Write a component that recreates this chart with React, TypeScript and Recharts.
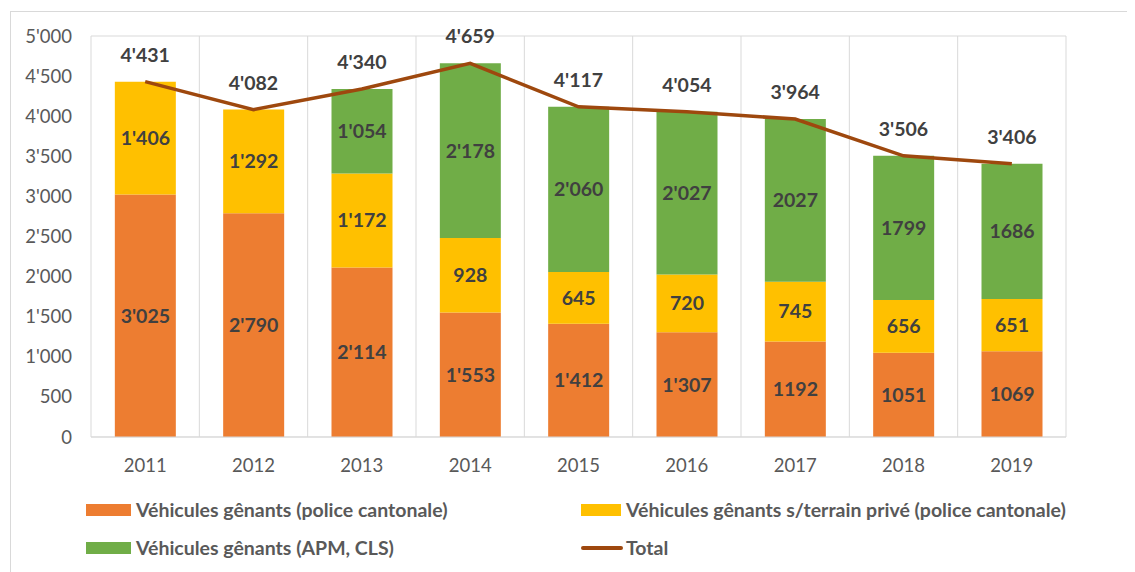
import { Bar, CartesianGrid, ComposedChart, LabelList, Line, XAxis, YAxis } from "recharts"

const years = ["2011", "2012", "2013", "2014", "2015", "2016", "2017", "2018", "2019"]
const policeCantonale = [3025, 2790, 2114, 1553, 1412, 1307, 1192, 1051, 1069]
const terrainPrive = [1406, 1292, 1172, 928, 645, 720, 745, 656, 651]
const apmCls = [0, 0, 1054, 2178, 2060, 2027, 2027, 1799, 1686]
const totals = [4431, 4082, 4340, 4659, 4117, 4054, 3964, 3506, 3406]

// labels as printed in the source (mixed formatting)
const policeLabels = ["3'025", "2'790", "2'114", "1'553", "1'412", "1'307", "1192", "1051", "1069"]
const priveLabels = ["1'406", "1'292", "1'172", "928", "645", "720", "745", "656", "651"]
const apmLabels = ["", "", "1'054", "2'178", "2'060", "2'027", "2027", "1799", "1686"]
const totalLabels = ["4'431", "4'082", "4'340", "4'659", "4'117", "4'054", "3'964", "3'506", "3'406"]

const yTicks = [0, 500, 1000, 1500, 2000, 2500, 3000, 3500, 4000, 4500, 5000]

const data = years.map((year, i) => ({
  year,
  police: policeCantonale[i],
  prive: terrainPrive[i],
  apm: apmCls[i],
  total: totals[i],
  policeLabel: policeLabels[i],
  priveLabel: priveLabels[i],
  apmLabel: apmLabels[i],
  totalLabel: totalLabels[i],
}))

const FONT = "Lato, 'Open Sans', sans-serif"
const fmt = (v: number) => (v >= 1000 ? `${Math.floor(v / 1000)}'${String(v % 1000).padStart(3, "0")}` : `${v}`)

const tickStyle = { fill: "#595959", fontSize: 18.5, fontFamily: FONT }
const barLabel = { fill: "#404040", fontSize: 19.5, fontWeight: 700, fontFamily: FONT }

const legendText = { fontFamily: FONT, fontWeight: 700, fontSize: 19.5, color: "#595959" }

export default function App() {
  return (
    <div
      style={{
        position: "relative",
        marginLeft: 2,
        marginTop: 3,
        width: 1125,
        height: 560,
        borderTop: "1px solid #d9d9d9",
        borderLeft: "1px solid #d9d9d9",
      }}
    >
      <ComposedChart
        width={1125}
        height={470}
        data={data}
        margin={{ top: 24, right: 10, bottom: 5, left: 20 }}
        barCategoryGap="22%"
      >
        <CartesianGrid
          stroke="#d9d9d9"
          verticalCoordinatesGenerator={({ offset }: any) =>
            Array.from({ length: years.length + 1 }, (_, i) => offset.left + (i * offset.width) / years.length)
          }
        />
        <XAxis
          dataKey="year"
          tick={tickStyle}
          tickLine={false}
          axisLine={{ stroke: "#d9d9d9" }}
          tickMargin={16}
          height={40}
        />
        <YAxis
          yAxisId="left"
          domain={[0, 5000]}
          ticks={yTicks}
          tickFormatter={fmt}
          tick={tickStyle}
          tickLine={false}
          axisLine={false}
          tickMargin={13}
          width={60}
        />
        <YAxis
          yAxisId="right"
          orientation="right"
          domain={[0, 5000]}
          ticks={yTicks}
          tickFormatter={fmt}
          tick={{ ...tickStyle, textAnchor: "start" }}
          tickLine={false}
          axisLine={false}
          tickMargin={13}
          width={60}
        />
        <Bar yAxisId="left" dataKey="police" stackId="a" fill="#ED7D31" isAnimationActive={false}>
          <LabelList dataKey="policeLabel" position="center" style={barLabel} />
        </Bar>
        <Bar yAxisId="left" dataKey="prive" stackId="a" fill="#FFC000" isAnimationActive={false}>
          <LabelList dataKey="priveLabel" position="center" style={barLabel} />
        </Bar>
        <Bar yAxisId="left" dataKey="apm" stackId="a" fill="#70AD47" isAnimationActive={false}>
          <LabelList dataKey="apmLabel" position="center" style={barLabel} />
        </Bar>
        <Line
          yAxisId="left"
          dataKey="total"
          stroke="#9E480E"
          strokeWidth={3.5}
          dot={false}
          type="linear"
          isAnimationActive={false}
        >
          <LabelList dataKey="totalLabel" position="top" offset={20} style={barLabel} />
        </Line>
      </ComposedChart>

      {/* legend */}
      <div style={{ position: "absolute", left: 75, top: 486, display: "flex", alignItems: "center" }}>
        <span style={{ width: 45, height: 12, background: "#ED7D31", marginRight: 5 }} />
        <span style={legendText}>Véhicules gênants (police cantonale)</span>
      </div>
      <div style={{ position: "absolute", left: 570, top: 486, display: "flex", alignItems: "center" }}>
        <span style={{ width: 40, height: 12, background: "#FFC000", marginRight: 5 }} />
        <span style={legendText}>Véhicules gênants s/terrain privé (police cantonale)</span>
      </div>
      <div style={{ position: "absolute", left: 75, top: 524, display: "flex", alignItems: "center" }}>
        <span style={{ width: 45, height: 12, background: "#70AD47", marginRight: 5 }} />
        <span style={legendText}>Véhicules gênants (APM, CLS)</span>
      </div>
      <div style={{ position: "absolute", left: 570, top: 524, display: "flex", alignItems: "center" }}>
        <span style={{ width: 42, height: 4, borderRadius: 2, background: "#9E480E", marginRight: 3 }} />
        <span style={legendText}>Total</span>
      </div>
    </div>
  )
}
